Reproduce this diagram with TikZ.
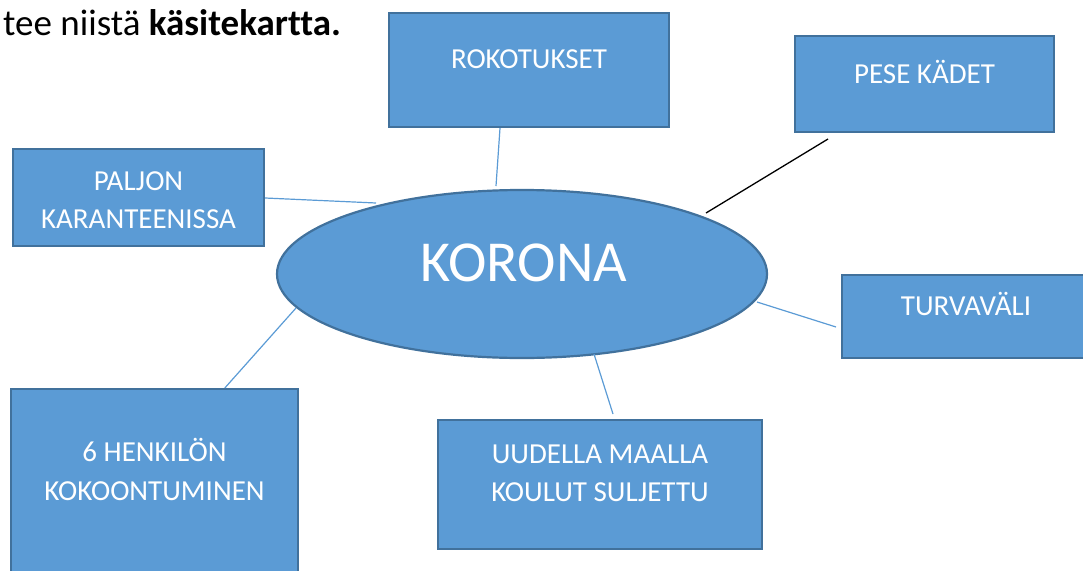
\documentclass[tikz,border=0pt]{standalone}
\usepackage{fontspec}
\setmainfont{Carlito}[Ligatures=NoCommon]
\usetikzlibrary{shapes.geometric}
\definecolor{boxfill}{HTML}{5B9BD5}
\definecolor{boxline}{HTML}{41719C}
\definecolor{connblue}{HTML}{5B9BD5}
\tikzset{
  box/.style={rectangle, draw=boxline, fill=boxfill, line width=2.2pt, inner sep=0pt},
  boxtext/.style={anchor=base, text=white, inner sep=0pt, font=\fontsize{29}{35}\selectfont},
  conn/.style={draw=connblue, line width=1.2pt},
  blackconn/.style={draw=black, line width=1.3pt}
}
\begin{document}
\begin{tikzpicture}[x=1pt, y=-1pt]
\useasboundingbox (0,0) rectangle (1083,570);
\clip (0,0) rectangle (1083,570);
% header
\node[anchor=base west, inner sep=0pt, font=\fontsize{37}{44}\selectfont] (head) at (3,35.5) {tee niistä \textbf{käsitekartta.}};
% boxes
\node[box, minimum width=280, minimum height=114] (rok) at (529,70) {};
\node[box, minimum width=259, minimum height=96] (pese) at (924.5,84) {};
\node[box, minimum width=251, minimum height=97] (pal) at (138.5,197.5) {};
\node[box, minimum width=248, minimum height=83] (turv) at (966,316.5) {};
\node[box, minimum width=287, minimum height=211] (hen) at (154.5,494.5) {};
\node[box, minimum width=324, minimum height=129] (uud) at (600,484.5) {};
% ellipse
\node[ellipse, draw=boxline, fill=boxfill, line width=2.2pt, minimum width=490, minimum height=168, inner sep=0pt] (kor) at (522,274) {};
% texts
\node[boxtext] (rokt) at (529,68.5) {ROKOTUKSET};
\node[boxtext] (peset) at (924.5,83) {PESE KÄDET};
\node[boxtext] (palt1) at (138.5,190) {PALJON};
\node[boxtext] (palt2) at (138.5,228) {KARANTEENISSA};
\node[boxtext] (turvt) at (966,315) {TURVAVÄLI};
\node[boxtext] (hent1) at (154.5,461.5) {6 HENKILÖN};
\node[boxtext] (hent2) at (154.5,500) {KOKOONTUMINEN};
\node[boxtext] (uudt1) at (600,463) {UUDELLA MAALLA};
\node[boxtext] (uudt2) at (600,501.5) {KOULUT SULJETTU};
\node[anchor=base, text=white, inner sep=0pt, font=\fontsize{58}{70}\selectfont] (kort) at (524,281.5) {KORONA};
% connector end points
\coordinate (e1) at (496,186);
\coordinate (e2) at (376,203);
\coordinate (e3) at (706,213);
\coordinate (e4) at (757,302);
\coordinate (e5) at (296,308);
\coordinate (e6) at (594,354);
\coordinate (p1) at (828,139);
\coordinate (p2) at (836,327);
\coordinate (p3) at (613,414);
% connectors
\draw[conn] ([xshift=-29pt]rok.south) -- (e1);
\draw[conn] ([yshift=-0.5pt]pal.east) -- (e2);
\draw[blackconn] (p1) -- (e3);
\draw[conn] (e4) -- (p2);
\draw[conn] (e5) -- ([xshift=215pt]hen.north west);
\draw[conn] (e6) -- (p3);
\end{tikzpicture}
\end{document}
